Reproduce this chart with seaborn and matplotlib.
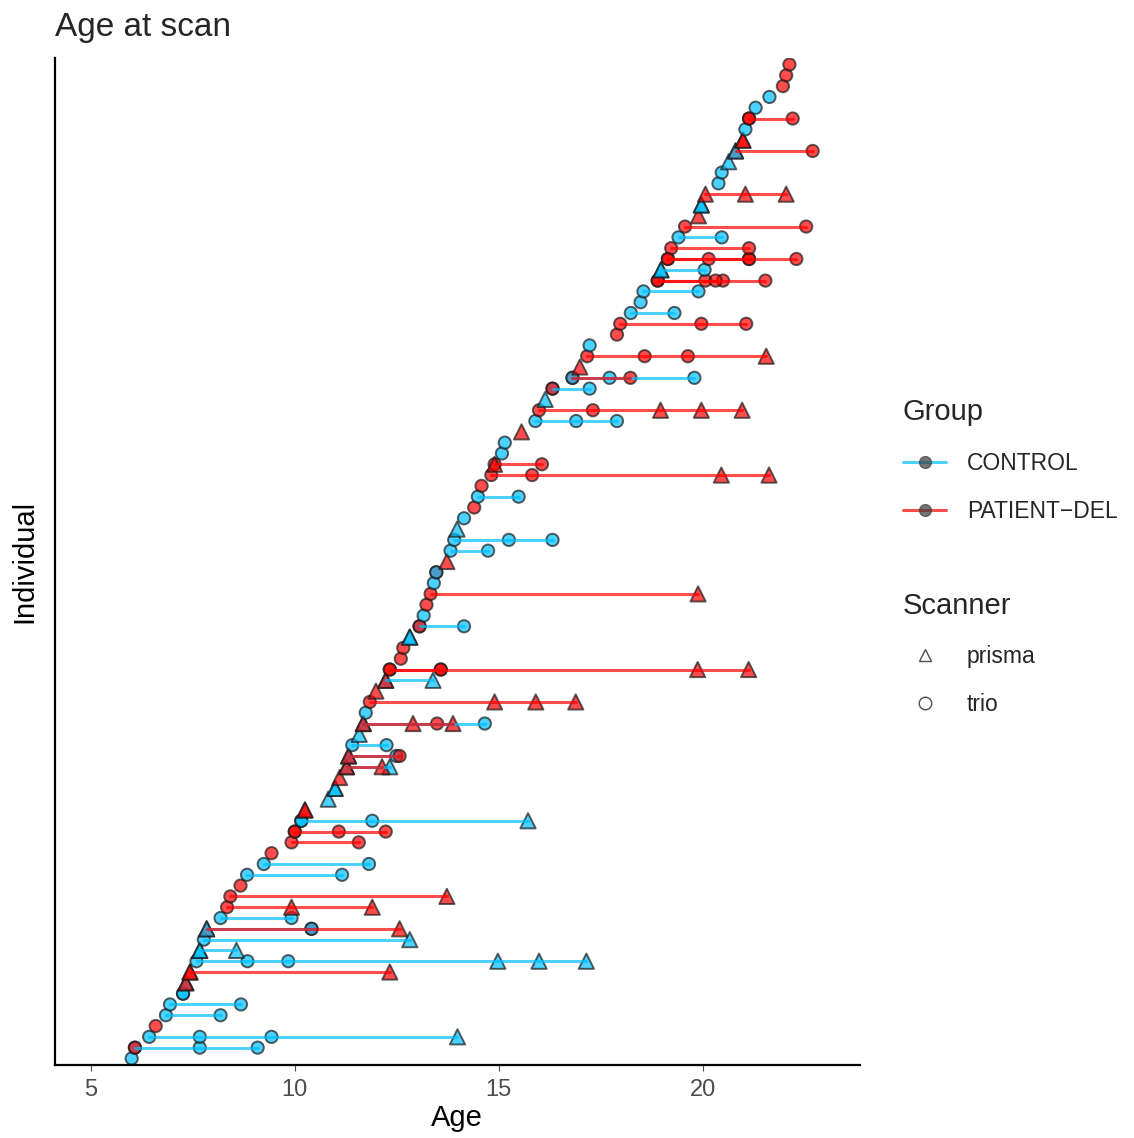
import numpy as np
import pandas as pd
import matplotlib
matplotlib.use('Agg')
import matplotlib.pyplot as plt
from matplotlib.lines import Line2D
import seaborn as sns

# one entry per individual: row on the y axis, group, scan ages, scanner per scan (T=trio, P=prisma)
ind_row = [0, 1, 1, 2, 3, 4, 5, 6, 6, 7, 7, 8, 8, 9, 10, 10, 11, 12, 12, 13,
           14, 15, 16, 17, 18, 19, 20, 21, 21, 22, 22, 23, 23, 24, 25, 25, 26, 27, 27, 28,
           28, 29, 30, 31, 31, 32, 33, 34, 35, 35, 36, 36, 37, 38, 39, 39, 40, 40, 41, 42,
           43, 44, 45, 45, 46, 47, 48, 49, 50, 51, 52, 53, 54, 55, 55, 56, 57, 58, 59, 60,
           61, 62, 62, 63, 63, 64, 65, 66, 67, 68, 69, 70, 71, 72, 72, 73, 73, 74, 74, 75,
           76, 77, 78, 79, 79, 80, 81, 82, 83, 84, 84, 85, 85, 86, 87, 87, 88, 89, 90, 91, 92]
ind_group = ['C', 'C', 'P', 'C', 'P', 'C', 'C', 'C', 'C', 'C', 'P', 'P', 'P', 'C', 'C', 'C', 'C', 'P', 'C', 'C',
             'P', 'P', 'P', 'C', 'C', 'P', 'P', 'P', 'P', 'C', 'C', 'P', 'P', 'C', 'C', 'C', 'P', 'C', 'P', 'C',
             'P', 'C', 'C', 'C', 'P', 'C', 'P', 'P', 'C', 'P', 'P', 'P', 'P', 'P', 'C', 'C', 'C', 'P', 'C', 'P',
             'P', 'C', 'P', 'C', 'P', 'C', 'C', 'C', 'C', 'P', 'C', 'P', 'P', 'P', 'P', 'C', 'C', 'P', 'C', 'P',
             'C', 'C', 'P', 'P', 'C', 'P', 'P', 'C', 'P', 'P', 'C', 'C', 'C', 'P', 'P', 'C', 'C', 'P', 'P', 'P',
             'C', 'P', 'P', 'C', 'C', 'P', 'C', 'C', 'C', 'P', 'C', 'P', 'P', 'C', 'P', 'P', 'C', 'C', 'P', 'P', 'P']
ind_ages = [
    [6.00], [6.08, 7.67, 9.09], [6.08], [6.43, 7.67, 9.43, 13.99], [6.59],
    [6.84, 8.18], [6.94, 8.68], [7.26], [7.26], [7.33], [7.33],
    [7.43, 12.33], [7.43], [7.59, 8.84, 9.84, 14.98, 15.99, 17.15],
    [7.67, 8.57], [7.67], [7.77, 12.82], [7.84, 10.41, 12.57], [7.84, 10.41],
    [8.18, 9.92], [8.34, 9.92, 11.90], [8.42, 13.73], [8.67], [8.83, 11.16],
    [9.24, 11.82], [9.43], [9.92, 11.57], [10.00, 11.08, 12.23], [10.00],
    [10.16, 11.90, 15.72], [10.16], [10.25], [10.25], [10.82], [10.99], [10.99],
    [11.10], [11.27, 12.33], [11.27, 12.14], [11.32, 12.49], [11.32, 12.57],
    [11.41, 12.25], [11.58], [11.68, 14.66], [11.68, 12.90, 13.49, 13.88],
    [11.74], [11.84, 14.90, 15.91, 16.89], [11.99], [12.23, 13.39], [12.23],
    [12.33, 13.58, 19.88, 21.13], [12.33, 13.58], [12.60], [12.66], [12.82], [12.82],
    [13.06, 14.15], [13.06], [13.16], [13.23], [13.33, 19.89], [13.41], [13.47], [13.47],
    [13.73], [13.82, 14.74], [13.91, 15.25, 16.32], [13.98], [14.15], [14.40],
    [14.49, 15.49], [14.58], [14.82, 15.82, 20.46, 21.63], [14.90, 16.06], [14.90],
    [15.08], [15.15], [15.56], [15.90, 16.90, 17.90], [15.99, 17.31, 18.97, 19.97, 20.97],
    [16.14], [16.32, 17.23], [16.32], [16.81, 18.23], [16.81, 17.72, 19.80],
    [16.99], [17.17, 18.58, 19.64, 21.56], [17.23], [17.90], [17.98, 19.97, 21.07],
    [18.24, 19.31], [18.48], [18.55, 19.90], [18.90, 20.07, 20.50, 21.54], [18.90, 20.32],
    [18.98, 20.05], [18.98], [19.15, 20.15, 21.14, 22.30], [19.15, 21.14], [19.23, 21.14],
    [19.41, 20.47], [19.57, 22.54], [19.90], [19.97], [19.97], [20.07, 21.05, 22.05],
    [20.39], [20.47], [20.64], [20.81, 22.70], [20.81], [20.99], [20.99],
    [21.05], [21.14, 22.21], [21.14], [21.30], [21.64], [21.97], [22.05], [22.13]]
ind_scanner = [
    'T', 'TTT', 'T', 'TTTP', 'T',
    'TT', 'TT', 'T', 'T', 'P', 'P',
    'PP', 'P', 'TTTPPP',
    'PP', 'P', 'TP', 'PTP', 'PT',
    'TT', 'TPP', 'TP', 'T', 'TT',
    'TT', 'T', 'TT', 'TTT', 'T',
    'TTP', 'T', 'P', 'P', 'P', 'P', 'P',
    'P', 'PP', 'PP', 'PT', 'PT',
    'TT', 'P', 'PT', 'PPTP',
    'T', 'TPPP', 'P', 'PP', 'P',
    'TTPP', 'TT', 'T', 'T', 'P', 'P',
    'TT', 'T', 'T', 'T', 'TP', 'T', 'T', 'T',
    'P', 'TT', 'TTT', 'P', 'T', 'T',
    'TT', 'T', 'TTPP', 'TT', 'P',
    'T', 'T', 'P', 'TTT', 'TTPPP',
    'P', 'TT', 'T', 'TT', 'TTT',
    'P', 'TTTP', 'T', 'T', 'TTT',
    'TT', 'T', 'TT', 'TTTT', 'TT',
    'PT', 'P', 'TTTT', 'TT', 'TT',
    'TT', 'TT', 'P', 'P', 'P', 'PPP',
    'T', 'T', 'P', 'PT', 'P', 'P', 'P',
    'T', 'TT', 'T', 'T', 'T', 'T', 'T', 'T']

group_names = {'C': 'CONTROL', 'P': 'PATIENT\u2212DEL'}
scanner_names = {'T': 'trio', 'P': 'prisma'}
palette = {'CONTROL': '#00BFFF', 'PATIENT\u2212DEL': '#FF0000'}

recs = []
for i, (r, g, ages, sc) in enumerate(zip(ind_row, ind_group, ind_ages, ind_scanner)):
    for a, s in zip(ages, sc):
        recs.append({'ind': i, 'row': r, 'group': group_names[g], 'age': a,
                     'scanner': scanner_names[s]})
df = pd.DataFrame(recs)

sns.set_theme(style='ticks')
plt.rcParams['font.family'] = ['Liberation Sans', 'DejaVu Sans']

fig = plt.figure(figsize=(11.34, 11.38), dpi=100)
ax = fig.add_axes([0.0485, 0.0642, 0.7095, 0.8848])

sns.lineplot(data=df, x='age', y='row', hue='group', units='ind', estimator=None,
             palette=palette, alpha=0.7, lw=2.2, legend=False, ax=ax, sort=True)
sns.scatterplot(data=df, x='age', y='row', hue='group', style='scanner',
                size='scanner', sizes={'prisma': 120, 'trio': 78},
                markers={'prisma': '^', 'trio': 'o'}, palette=palette,
                alpha=0.7, edgecolor='#1a1a1a', linewidth=1.4, legend=False, ax=ax)

ax.set_xlim(4.12, 23.85)
ax.set_ylim(-0.6, 92.6)
ax.set_xticks([5, 10, 15, 20])
ax.set_yticks([])
ax.tick_params(axis='x', labelsize=17, colors='#4d4d4d', length=4, width=0.8, pad=6)
for lab in ax.get_xticklabels():
    lab.set_color('#4d4d4d')
ax.set_xlabel('Age', fontsize=21, color='black', labelpad=2)
ax.set_ylabel('Individual', fontsize=21, color='black', labelpad=12)
for side in ['top', 'right']:
    ax.spines[side].set_visible(False)
for side in ['left', 'bottom']:
    ax.spines[side].set_linewidth(1.6)
    ax.spines[side].set_color('black')

fig.text(0.0485, 0.962, 'Age at scan', fontsize=24, ha='left', va='bottom')

grp_handles = [Line2D([0], [0], color=palette[k], alpha=0.7, lw=2.2, marker='o',
                      markersize=8.5, markerfacecolor='#3c3c3c', markeredgecolor='#3c3c3c',
                      label=k) for k in ['CONTROL', 'PATIENT\u2212DEL']]
leg1 = fig.legend(handles=grp_handles, title='Group', loc='upper left',
                  bbox_to_anchor=(0.788, 0.658), frameon=False, fontsize=16.5,
                  title_fontsize=21, handlelength=1.9, handletextpad=0.9,
                  labelspacing=1.1, alignment='left', borderaxespad=0)
sc_handles = [Line2D([0], [0], lw=0, marker=m, markersize=9, markerfacecolor='none',
                     markeredgecolor='#4d4d4d', label=k)
              for k, m in [('prisma', '^'), ('trio', 'o')]]
leg2 = fig.legend(handles=sc_handles, title='Scanner', loc='upper left',
                  bbox_to_anchor=(0.788, 0.488), frameon=False, fontsize=16.5,
                  title_fontsize=21, handlelength=1.9, handletextpad=0.9,
                  labelspacing=1.1, alignment='left', borderaxespad=0)

fig.savefig('out.png', dpi=100)
